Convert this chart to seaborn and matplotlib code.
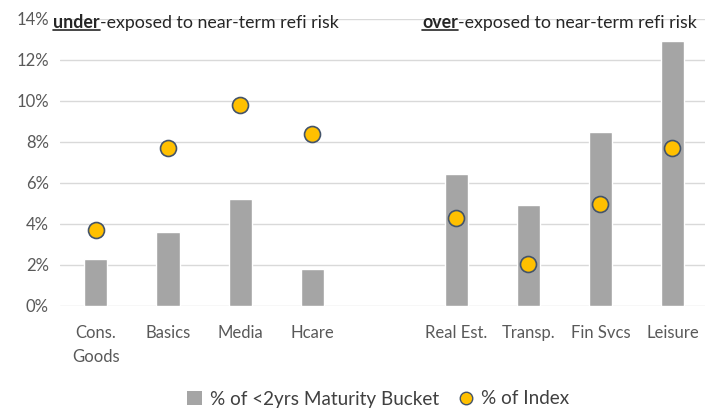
import matplotlib
matplotlib.use("Agg")
import matplotlib.pyplot as plt
import pandas as pd
import seaborn as sns
from matplotlib.lines import Line2D
from matplotlib.patches import Patch

# chart data
sectors = ["Cons.\nGoods", "Basics", "Media", "Hcare", " ",
           "Real Est.", "Transp.", "Fin Svcs", "Leisure"]
bucket_pct = [2.3, 3.6, 5.2, 1.8, None, 6.45, 4.9, 8.5, 12.9]
index_pct = [3.7, 7.7, 9.8, 8.4, None, 4.3, 2.05, 4.95, 7.7]

df = pd.DataFrame({"sector": sectors,
                   "bucket": [v / 100 if v is not None else None for v in bucket_pct],
                   "index": [v / 100 if v is not None else None for v in index_pct]})

sns.set_theme(style="white")
plt.rcParams["font.family"] = ["Lato", "DejaVu Sans"]

fig = plt.figure(figsize=(7.05, 4.09), dpi=100)
ax = fig.add_axes([0.085, 0.252, 0.92, 0.702])

sns.barplot(data=df.dropna(), x="sector", y="bucket", order=sectors,
            color="#A5A5A5", saturation=1, width=0.32, ax=ax)
sns.stripplot(data=df.dropna(), x="sector", y="index", order=sectors,
              jitter=False, color="#FFC000", edgecolor="#44546A",
              linewidth=1.2, size=11.5, ax=ax, zorder=5)

ax.set_ylim(0, 0.14)
ax.set_xlim(-0.5, 8.5)
ax.set_yticks([i / 100 for i in range(0, 15, 2)])
ax.set_yticklabels([f"{i}%" for i in range(0, 15, 2)])
ax.yaxis.grid(True, color="#D9D9D9", linewidth=1)
ax.set_axisbelow(True)
for s in ax.spines.values():
    s.set_visible(False)
ax.tick_params(axis="both", length=0, labelsize=12, colors="#595959")
ax.tick_params(axis="x", pad=14)
ax.tick_params(axis="y", pad=8)
for lbl in ax.get_xticklabels():
    lbl.set_linespacing(1.6)
ax.set_xlabel("")
ax.set_ylabel("")

# annotations with bold underlined keyword
fs = 12.8
t1 = fig.text(53 / 705, 1 - 23 / 409, "under", fontsize=fs, fontweight="bold",
              color="#262626", va="center", ha="left")
t1b = ax.annotate("-exposed to near-term refi risk", xy=(1, 0.5), xycoords=t1,
                  va="center", ha="left", fontsize=fs, color="#262626")
t2b = fig.text(697 / 705, 1 - 23 / 409, "-exposed to near-term refi risk",
               fontsize=fs, color="#262626", va="center", ha="right")
t2 = ax.annotate("over", xy=(0, 0.5), xycoords=t2b, va="center", ha="right",
                 fontsize=fs, fontweight="bold", color="#262626")

fig.canvas.draw()
inv = fig.transFigure.inverted()
for t in (t1, t2):
    bb = t.get_window_extent()
    (x0, y0), (x1, _) = inv.transform([(bb.x0, bb.y0 + 2), (bb.x1, bb.y0 + 2)])
    fig.add_artist(Line2D([x0, x1], [y0, y0], color="#262626", linewidth=1.2,
                          transform=fig.transFigure))

handles = [Patch(facecolor="#A5A5A5", edgecolor="none"),
           Line2D([], [], marker="o", linestyle="none", markerfacecolor="#FFC000",
                  markeredgecolor="#44546A", markersize=9)]
fig.legend(handles, ["% of <2yrs Maturity Bucket", "% of Index"],
           loc="center", bbox_to_anchor=(378 / 705, 1 - 399 / 409), ncol=2,
           frameon=False, fontsize=13.6, handlelength=0.8, handletextpad=0.4,
           columnspacing=1.0, labelcolor="#404040")

fig.savefig("out.png", dpi=100)
